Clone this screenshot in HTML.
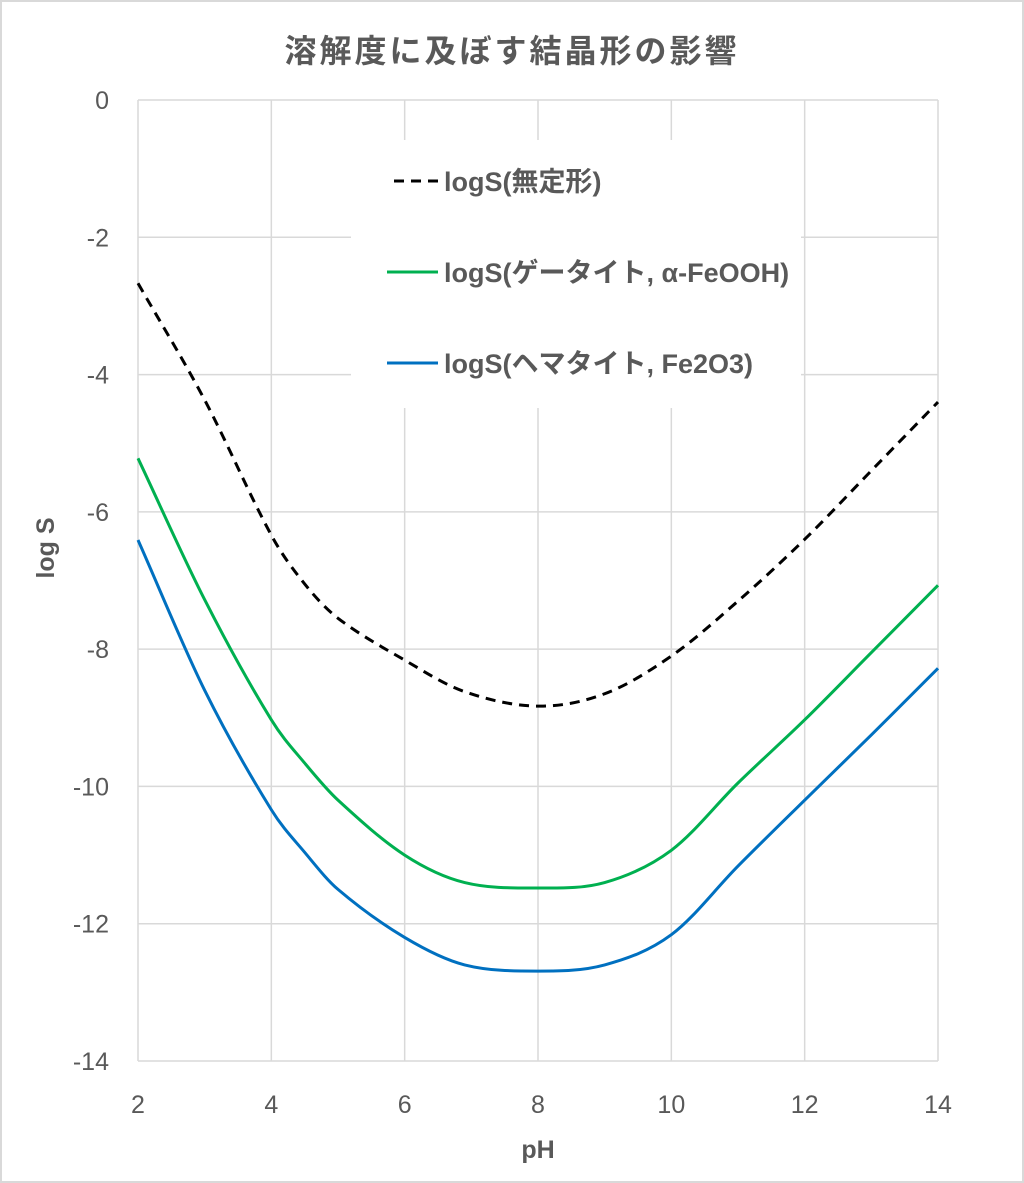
<!DOCTYPE html>
<html><head><meta charset="utf-8"><style>
body{margin:0;background:#fff}
svg{display:block}
text{font-family:"Liberation Sans","Noto Sans CJK JP",sans-serif;fill:#595959}
</style></head><body>
<svg id="chart" width="1024" height="1183">
<rect x="1" y="1" width="1022" height="1181" fill="#fff" stroke="#d9d9d9" stroke-width="2"/>
<text x="512" y="62" text-anchor="middle" font-size="32" font-weight="bold" letter-spacing="3">溶解度に及ぼす結晶形の影響</text>
<g id="grid"></g>
<g id="ticks"></g>
<rect x="351" y="140" width="450" height="268" fill="#fff"/>
<g id="series"></g>
<g>
<line x1="394" y1="181" x2="438" y2="181" stroke="#000" stroke-width="3" stroke-dasharray="10,7"/>
<text x="444" y="191" font-size="27" font-weight="bold">logS(無定形)</text>
<line x1="387" y1="272" x2="438" y2="272" stroke="#00b050" stroke-width="3"/>
<text x="444" y="282" font-size="27" font-weight="bold">logS(ゲータイト, α-FeOOH)</text>
<line x1="387" y1="363" x2="438" y2="363" stroke="#0070c0" stroke-width="3"/>
<text x="444" y="373" font-size="27" font-weight="bold">logS(ヘマタイト, Fe2O3)</text>
</g>
<text x="538" y="1158" text-anchor="middle" font-size="25" font-weight="bold">pH</text>
<text transform="translate(54,548) rotate(-90)" text-anchor="middle" font-size="25" font-weight="bold">log S</text>
</svg>
<script>
const phValues=[2,3,4,4.5,5,6,6.9,8,9,10,11,12,13,14];
const amorphous=[-2.67,-4.37,-6.34,-7.05,-7.55,-8.16,-8.62,-8.83,-8.65,-8.1,-7.3,-6.4,-5.4,-4.4];
const goethite=[-5.22,-7.28,-9.03,-9.66,-10.2,-11.0,-11.4,-11.48,-11.4,-10.93,-9.95,-9.03,-8.05,-7.07];
const hematite=[-6.41,-8.6,-10.34,-10.96,-11.5,-12.2,-12.6,-12.69,-12.6,-12.16,-11.16,-10.2,-9.25,-8.28];
const xTicks=[2,4,6,8,10,12,14];
const yTicks=[0,-2,-4,-6,-8,-10,-12,-14];
const NS="http://www.w3.org/2000/svg";
const X0=138,X1=938,Y0=100,Y1=1061;
const xs=v=>X0+(v-2)/12*(X1-X0);
const ys=v=>Y0+(0-v)/14*(Y1-Y0);
const grid=document.getElementById('grid'),ticks=document.getElementById('ticks');
xTicks.forEach(t=>{
  const l=document.createElementNS(NS,'line');
  l.setAttribute('x1',xs(t));l.setAttribute('x2',xs(t));l.setAttribute('y1',Y0);l.setAttribute('y2',Y1);
  l.setAttribute('stroke','#d9d9d9');l.setAttribute('stroke-width','1.5');
  
  
  grid.appendChild(l);
  const tx=document.createElementNS(NS,'text');
  tx.setAttribute('x',xs(t));tx.setAttribute('y',1113);tx.setAttribute('text-anchor','middle');tx.setAttribute('font-size','25');
  tx.textContent=t;
  
  
  ticks.appendChild(tx);
});
yTicks.forEach(t=>{
  const l=document.createElementNS(NS,'line');
  l.setAttribute('x1',X0);l.setAttribute('x2',X1);l.setAttribute('y1',ys(t));l.setAttribute('y2',ys(t));
  l.setAttribute('stroke','#d9d9d9');l.setAttribute('stroke-width','1.5');
  
  
  grid.appendChild(l);
  const tx=document.createElementNS(NS,'text');
  tx.setAttribute('x',109);tx.setAttribute('y',ys(t)+9);tx.setAttribute('text-anchor','end');tx.setAttribute('font-size','25');
  tx.textContent=t;
  
  
  ticks.appendChild(tx);
});
function pathFor(vals){
  const p=phValues.map((x,i)=>[xs(x),ys(vals[i])]);
  const n=p.length;
  const m=p.map((pt,i)=>{
    const a=p[Math.max(i-1,0)],c=p[Math.min(i+1,n-1)];
    return (c[1]-a[1])/(c[0]-a[0]);
  });
  let d='M'+p[0][0]+','+p[0][1];
  for(let i=0;i<n-1;i++){
    const b=p[i],c=p[i+1],dx=(c[0]-b[0])/3;
    d+=` C${b[0]+dx},${b[1]+m[i]*dx} ${c[0]-dx},${c[1]-m[i+1]*dx} ${c[0]},${c[1]}`;
  }
  return d;
}
const series=document.getElementById('series');
[[amorphous,'#000','10,7','series-amorphous'],[goethite,'#00b050','','series-goethite'],[hematite,'#0070c0','','series-hematite']].forEach(s=>{
  const p=document.createElementNS(NS,'path');
  p.setAttribute('d',pathFor(s[0]));p.setAttribute('fill','none');p.setAttribute('stroke',s[1]);p.setAttribute('stroke-width','3');
  if(s[2])p.setAttribute('stroke-dasharray',s[2]);
  
  
  series.appendChild(p);
});
</script>
</body></html>
